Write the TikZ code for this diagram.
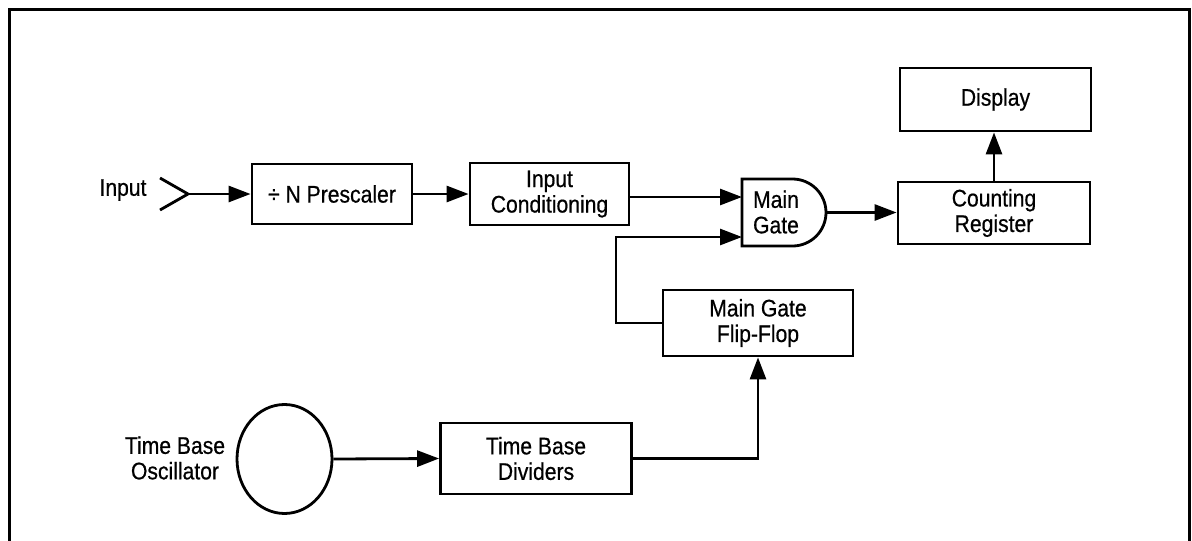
\documentclass[tikz,border=0pt]{standalone}
\usepackage{fontspec}
\setmainfont{Liberation Sans}[FakeStretch=0.88,FakeBold=0.6]
\usetikzlibrary{arrows.meta,shapes.geometric}
\begin{document}
\begin{tikzpicture}[x=1pt,y=-1pt,
  lbl/.style={font=\fontsize{24}{25.5}\selectfont, align=center, inner sep=0pt},
  blk/.style={lbl, draw, line width=2.8pt, rectangle},
  wire/.style={line width=2.8pt},
  conn/.style={wire, -{Triangle[length=22pt,width=16pt]}}]
\useasboundingbox (0,0) rectangle (1192,541);
% frame
\draw[line width=3.8pt] (9.5,541) -- (9.5,9.5) -- (1189.5,9.5) -- (1189.5,541);

% nodes
\node[lbl] (inlbl) at (123,190) {Input};
\coordinate (tip) at (188,194);
\node[blk, minimum width=160pt, minimum height=60pt] (pre) at (332,194) {\char"00F7\ N Prescaler};
\node[blk, minimum width=159pt, minimum height=62pt] (ic) at (549.5,194) {Input\\Conditioning};
\node[blk, minimum width=192pt, minimum height=62pt] (cr) at (994,213) {Counting\\Register};
\node[blk, minimum width=191pt, minimum height=63pt] (disp) at (995.5,99.5) {Display};
\node[blk, minimum width=190pt, minimum height=66pt] (ff) at (758,323) {Main Gate\\Flip-Flop};
\node[blk, minimum width=191pt, minimum height=71pt] (tbd) at (536,458.5) {Time Base\\Dividers};
\node[draw, ellipse, line width=2.8pt, minimum width=95pt, minimum height=109pt, inner sep=0pt] (osc) at (284.5,459) {};
\node[lbl] (osclbl) at (175,458) {Time Base\\Oscillator};

% main gate (AND shape)
\draw[wire] (792.5,179) -- (742,179) -- (742,246) -- (792.5,246)
  arc[start angle=90, end angle=-90, radius=33.5] -- cycle;
\node[lbl] (gate) at (776,212) {Main\\Gate};
\coordinate (gin1) at (742,197);
\coordinate (gin2) at (742,237);
\coordinate (gout) at (826,212.5);
\coordinate (fb) at (616,237);

% input chevron
\draw[wire] (160,178) -- (tip) -- (160,210);

% connectors
\draw[conn] (tip) -- (pre.west);
\draw[conn] (pre.east) -- (ic.west);
\draw[conn] (ic.east |- gin1) -- (gin1);
\draw[conn] (gout) -- (cr.west |- gout);
\draw[conn] (cr.north) -- (cr.north |- disp.south);
\draw[conn] (ff.west) -| (fb) -- (gin2);
\draw[conn] (osc.east) -- (tbd.west);
\draw[conn] (tbd.east) -| (ff.south);
\end{tikzpicture}
\end{document}
